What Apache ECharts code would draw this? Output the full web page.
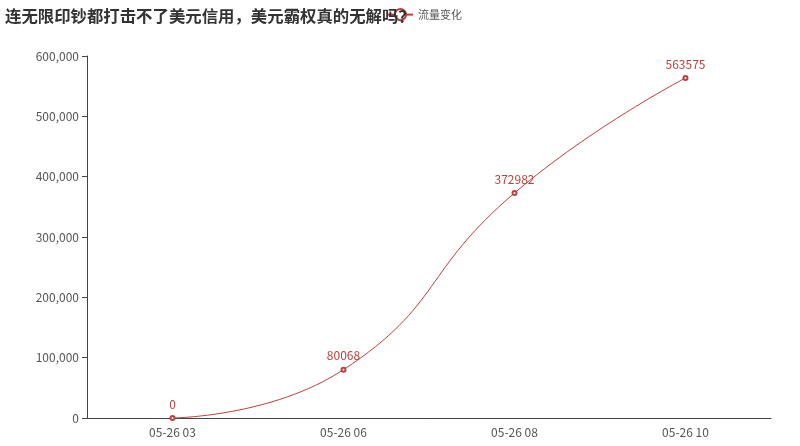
<!DOCTYPE html>
<html><head><meta charset="utf-8">
<script src="https://cdn.jsdelivr.net/npm/echarts@6/dist/echarts.min.js"></script>
<style>html,body{margin:0;padding:0;background:#fff}#c{width:800px;height:446px}</style>
</head><body><div id="c"></div>
<script>
const titleText = '连无限印钞都打击不了美元信用，美元霸权真的无解吗？';
const seriesName = '流量变化';
const categories = ['05-26 03', '05-26 06', '05-26 08', '05-26 10'];
const values = [0, 80068, 372982, 563575];
const yTicks = [0, 100000, 200000, 300000, 400000, 500000, 600000];

const chart = echarts.init(document.getElementById('c'));
const color = '#bf3f3c';
chart.setOption({
  animation: false,
  title: {
    text: titleText, left: 0, top: 3, z: 10,
    textStyle: {fontFamily: 'Noto Sans CJK SC', fontSize: 16.4, fontWeight: 'bold', color: '#333'}
  },
  legend: {
    data: [seriesName], left: 382, top: 3, itemWidth: 25, itemHeight: 14, itemGap: 5, z: 1,
    textStyle: {fontFamily: 'Noto Sans CJK SC', fontSize: 11, color: '#555'}
  },
  grid: {left: 87, right: 29, top: 56, bottom: 28, containLabel: false},
  xAxis: {
    type: 'category', data: categories, boundaryGap: true,
    axisLine: {lineStyle: {color: '#444'}},
    axisTick: {lineStyle: {color: '#444'}},
    axisLabel: {color: '#555', fontFamily: 'Noto Sans CJK SC', fontSize: 12}
  },
  yAxis: {
    type: 'value', min: yTicks[0], max: yTicks[yTicks.length - 1], interval: 100000,
    splitLine: {show: false},
    axisLine: {show: true, lineStyle: {color: '#444'}},
    axisTick: {show: true, lineStyle: {color: '#444'}},
    axisLabel: {color: '#555', fontFamily: 'Noto Sans CJK SC', fontSize: 12,
      formatter: v => v.toLocaleString('en-US')}
  },
  series: [{
    name: seriesName, type: 'line', data: values, smooth: true,
    symbol: 'emptyCircle', symbolSize: 4,
    itemStyle: {color: color},
    lineStyle: {color: color, width: 1},
    label: {show: true, position: 'top', color: color, fontFamily: 'Noto Sans CJK SC', fontSize: 12}
  }]
});
</script></body></html>
